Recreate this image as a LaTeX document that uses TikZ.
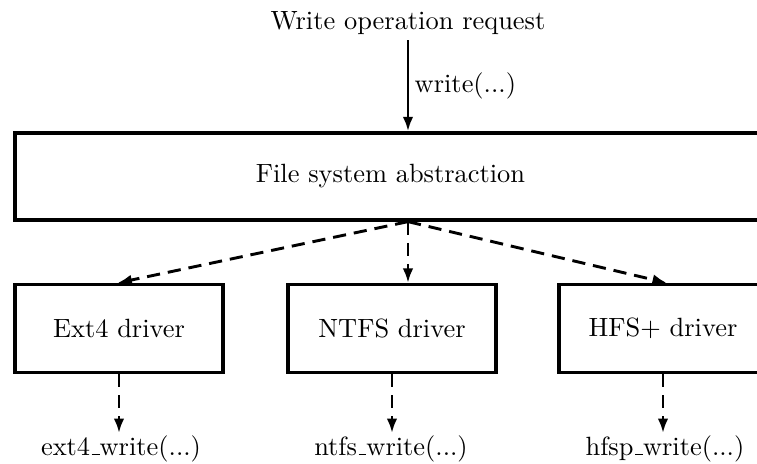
\documentclass[tikz,border=0pt]{standalone}
\usetikzlibrary{arrows.meta}
\newcommand\lowbar{\leavevmode\kern.06em\vbox{\hrule width.3em height .45pt}}
\begin{document}
\begin{tikzpicture}[x=0.3788pt,y=-0.3788pt,
  box/.style={draw,line width=1.2pt,rectangle,inner sep=0pt},
  arr/.style={line width=1.1pt,-{Latex[length=5.5pt,width=4pt]}},
  darr/.style={arr,dash pattern=on 5pt off 3pt},
  outtext/.style={inner sep=0.6pt,anchor=base}]
\useasboundingbox (0,0) rectangle (757,463);
\clip (0,0) rectangle (757,463);
\node[anchor=base,inner sep=2.2pt] (title) at (408,29) {Write operation request};
\node[box,minimum width=284.5pt,minimum height=33pt] (fs) at (390.5,176.5) {File system abstraction};
\node[box,minimum width=78.8pt,minimum height=33.3pt] (ext4) at (119,328.5) {Ext4 driver};
\node[box,minimum width=78.8pt,minimum height=33.3pt] (ntfs) at (392,328.5) {NTFS driver};
\node[box,minimum width=78.8pt,minimum height=33.3pt] (hfs) at (663,328.5) {HFS+ driver};
\node[outtext] (e4w) at (121,455) {ext4\lowbar write(...)};
\node[outtext] (ntw) at (391,455) {ntfs\lowbar write(...)};
\node[outtext] (hfw) at (665,455) {hfsp\lowbar write(...)};
\draw[arr] (title.south) -- node[right,inner sep=2pt] {write(...)} (title.south |- fs.north);
\coordinate (hub) at (title.south |- fs.south);
\draw[darr] (hub) -- ([xshift=-0.6pt]ext4.north);
\draw[darr] (hub) -- (hub |- ntfs.north);
\draw[darr] (hub) -- ([xshift=1.5pt]hfs.north);
\draw[darr] (ext4.south) -- (ext4.south |- e4w.north);
\draw[darr] (ntfs.south) -- (ntfs.south |- ntw.north);
\draw[darr] (hfs.south) -- (hfs.south |- hfw.north);
\end{tikzpicture}
\end{document}
